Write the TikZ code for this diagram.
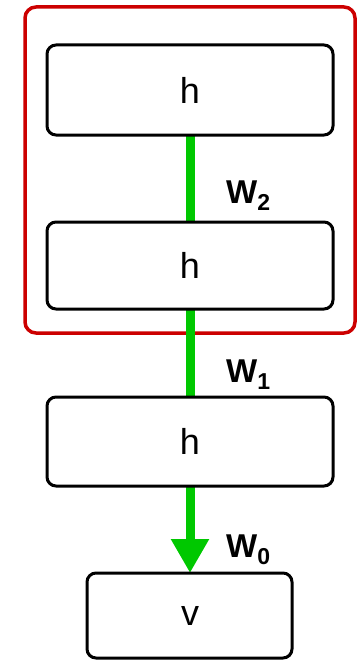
\documentclass[tikz,border=0pt]{standalone}
\usepackage{fontspec}
\setmainfont{Liberation Sans}
\usetikzlibrary{arrows.meta}
\definecolor{groupred}{RGB}{204,0,0}
\definecolor{linkgreen}{RGB}{0,200,0}
\tikzset{
  x=1pt, y=-1pt,
  unitbox/.style={draw=black, line width=3pt, rounded corners=9pt, fill=white},
  unitlabel/.style={font=\fontsize{36}{40}\selectfont, inner sep=0pt},
  link/.style={draw=linkgreen, line width=9pt},
  weight/.style={anchor=base west, inner sep=0pt, font=\fontsize{33}{38}\selectfont\bfseries},
}
\newcommand{\wsub}[1]{W\raisebox{-7pt}{\fontsize{23}{26}\selectfont #1}}
\begin{document}
\begin{tikzpicture}
\useasboundingbox (0,0) rectangle (360,661);
% group frame around the two upper layers
\draw[groupred, line width=3.5pt, rounded corners=11pt] (25,7) rectangle (355,333);
% connections between layers
\coordinate (t1) at (190,135);
\coordinate (b2) at (190,222);
\coordinate (t2) at (190,309);
\coordinate (b3) at (190,397);
\coordinate (t3) at (190,486);
\coordinate (b4) at (190,573);
\draw[link] (t1) -- (b2);
\draw[link] (t2) -- (b3);
\draw[link, -{Triangle[width=36pt, length=34pt]}] (t3) -- (b4);
% layers
\draw[unitbox] (47,45) rectangle (333,135);
\node[unitlabel] (h3) at (190,90) {h};
\draw[unitbox] (47,222) rectangle (333,309);
\node[unitlabel] (h2) at (190,265.5) {h};
\draw[unitbox] (47,397) rectangle (333,486);
\node[unitlabel] (h1) at (190,441.5) {h};
\draw[unitbox] (87,573) rectangle (292,658);
\node[unitlabel] (v) at (190,615.5) {v};
% weight labels
\node[weight] (w2) at (226,203) {\wsub{2}};
\node[weight] (w1) at (226,382) {\wsub{1}};
\node[weight] (w0) at (226,557) {\wsub{0}};
\end{tikzpicture}
\end{document}
